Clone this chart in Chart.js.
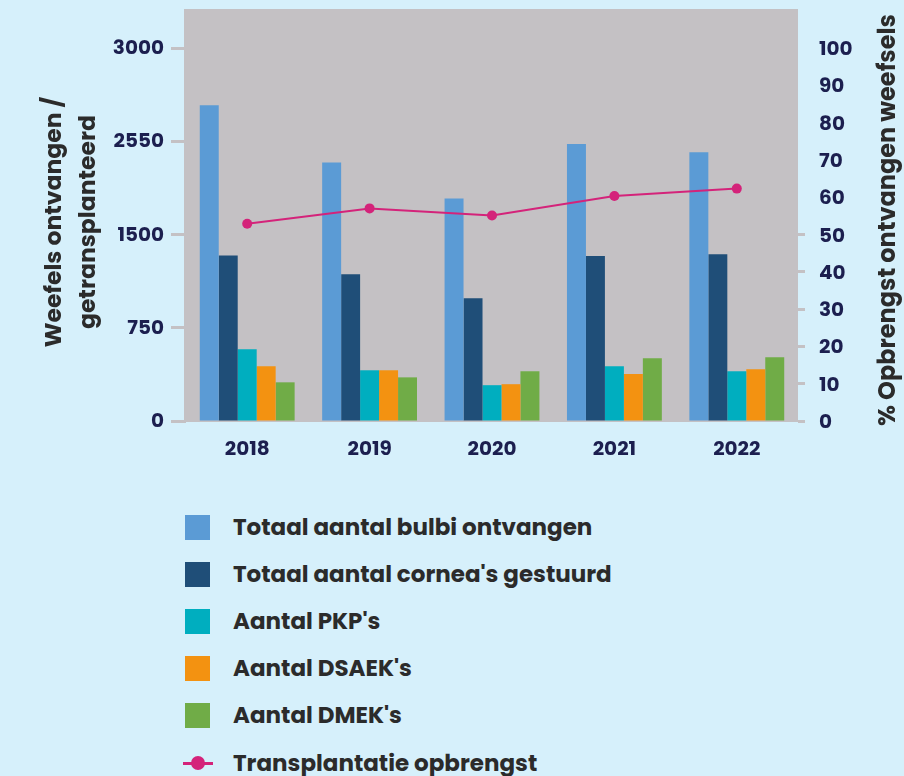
<!DOCTYPE html>
<html>
<head>
<meta charset="utf-8">
<script src="https://cdn.jsdelivr.net/npm/chart.js@4.4.1/dist/chart.umd.min.js"></script>
<style>
  html, body { margin: 0; padding: 0; background: #d6f0fb; }
  #wrap { position: relative; width: 904px; height: 776px; overflow: hidden; }
  #chart { position: absolute; left: 0; top: 0; }
  .item { position: absolute; left: 183px; height: 26px; display: flex; align-items: center;
          font: 700 23px Poppins, Inter, sans-serif; color: #2b2b2b; white-space: nowrap; }
  .swatch { width: 25px; height: 25px; margin-left: 2px; margin-right: 23px; }
  .lineMark { position: relative; width: 30px; height: 26px; margin-right: 20px; }
  .lineMark::before { content: ''; position: absolute; left: 0; right: 0; top: 12px; height: 3px; background: var(--c); }
  .lineMark::after { content: ''; position: absolute; left: 8px; top: 6px; width: 14px; height: 14px; border-radius: 50%; background: var(--c); }
</style>
</head>
<body>
<div id="wrap">
  <canvas id="chart" width="904" height="470"></canvas>
  <div id="legend"></div>
</div>
<script>
// ---- data ----
const years = ['2018', '2019', '2020', '2021', '2022'];
const bulbiOntvangen = [2540, 2080, 1790, 2228, 2162];
const corneasGestuurd = [1332, 1180, 987, 1327, 1342];
const pkp = [577, 408, 288, 440, 400];
const dsaek = [440, 408, 296, 378, 416];
const dmek = [311, 351, 400, 505, 513];
const opbrengst = [52.9, 57.0, 55.1, 60.3, 62.3];

const leftTickValues = [0, 750, 1500, 2250, 3000];
const leftTickLabels = ['0', '750', '1500', '2550', '3000'];   // as printed in the original
const rightTickValues = [0, 10, 20, 30, 40, 50, 60, 70, 80, 90, 100];

const seriesNames = [
  'Totaal aantal bulbi ontvangen',
  "Totaal aantal cornea's gestuurd",
  "Aantal PKP's",
  "Aantal DSAEK's",
  "Aantal DMEK's",
  'Transplantatie opbrengst'
];
const leftTitle = ['Weefels ontvangen /', 'getransplanteerd'];
const rightTitle = '% Opbrengst ontvangen weefsels';

// ---- colours ----
const colors = ['#5b9bd5', '#1f4e78', '#00aebf', '#f39211', '#70ac47', '#d4237a'];
const plotGrey = '#c4c1c4';
const tickText = '#1c1f4f';
const FONT = 'Poppins, Inter, sans-serif';

const barSeries = [bulbiOntvangen, corneasGestuurd, pkp, dsaek, dmek];

// grey panel behind the plot (reaches above the 3000 line)
const backdrop = {
  id: 'backdrop',
  beforeDraw(chart) {
    const { ctx, chartArea } = chart;
    ctx.save();
    ctx.fillStyle = plotGrey;
    ctx.fillRect(chartArea.left - 2, 9, chartArea.right - chartArea.left + 2, chartArea.bottom + 1 - 9);
    ctx.restore();
  }
};

// both axis titles read bottom-to-top
const axisTitles = {
  id: 'axisTitles',
  afterDraw(chart) {
    const { ctx } = chart;
    ctx.save();
    ctx.fillStyle = '#2b2b2b';
    ctx.textAlign = 'center';
    ctx.textBaseline = 'alphabetic';
    const put = (x, y, t, size) => {
      ctx.save();
      ctx.font = '700 ' + size + 'px ' + FONT;
      ctx.translate(x, y);
      ctx.rotate(-Math.PI / 2);
      ctx.fillText(t, 0, 0);
      ctx.restore();
    };
    put(61, 222, leftTitle[0], 23.5);
    put(95, 222, leftTitle[1], 23.5);
    put(895, 220, rightTitle, 24);
    ctx.restore();
  }
};

const datasets = barSeries.map((d, i) => ({
  type: 'bar',
  label: seriesNames[i],
  data: d,
  backgroundColor: colors[i],
  borderWidth: 0,
  yAxisID: 'y',
  order: 2,
  barPercentage: 1.0,
  categoryPercentage: 0.775
}));
datasets.push({
  type: 'line',
  label: seriesNames[5],
  data: opbrengst,
  borderColor: colors[5],
  backgroundColor: colors[5],
  borderWidth: 2,
  pointRadius: 5,
  pointHoverRadius: 5,
  pointBorderWidth: 0,
  tension: 0,
  yAxisID: 'y1',
  order: 1
});

new Chart(document.getElementById('chart'), {
  type: 'bar',
  data: { labels: years, datasets },
  options: {
    responsive: false,
    animation: false,
    layout: { padding: { top: 48, left: 0, right: 0, bottom: 0 } },
    plugins: { legend: { display: false }, tooltip: { enabled: false } },
    scales: {
      x: {
        offset: true,
        grid: { display: false, drawTicks: false },
        border: { display: false },
        ticks: { color: tickText, font: { family: FONT, size: 20, weight: '700' }, padding: 17 },
        afterFit: (s) => { s.height = 470 - 421; }
      },
      y: {
        position: 'left',
        min: 0,
        max: 3000,
        afterBuildTicks: (s) => { s.ticks = leftTickValues.map(v => ({ value: v })); },
        grid: { drawOnChartArea: false, drawTicks: true, tickLength: 15, tickWidth: 3, tickColor: plotGrey },
        border: { display: false },
        ticks: {
          color: tickText,
          font: { family: FONT, size: 20, weight: '700' },
          padding: 7,
          labelOffset: 1,
          callback: (v) => leftTickLabels[leftTickValues.indexOf(v)]
        },
        afterFit: (s) => { s.width = 186; }
      },
      y1: {
        position: 'right',
        min: 0,
        max: 100,
        afterBuildTicks: (s) => { s.ticks = rightTickValues.map(v => ({ value: v })); },
        grid: {
          drawOnChartArea: false, drawTicks: true, tickLength: 7, tickWidth: 3,
          tickColor: (c) => (c.tick && c.tick.value <= 50 ? plotGrey : 'rgba(0,0,0,0)')
        },
        border: { display: false },
        ticks: { color: tickText, font: { family: FONT, size: 20, weight: '700' }, padding: 14, labelOffset: 2 },
        afterFit: (s) => { s.width = 904 - 798; }
      }
    }
  },
  plugins: [backdrop, axisTitles]
});

// ---- legend, one entry per line ----
const legend = document.getElementById('legend');
seriesNames.forEach((name, i) => {
  const row = document.createElement('div');
  row.className = 'item';
  row.style.top = (527 + i * 47.1 - 13) + 'px';
  const mark = document.createElement('span');
  if (i < 5) {
    mark.className = 'swatch';
    mark.style.background = colors[i];
  } else {
    mark.className = 'lineMark';
    mark.style.setProperty('--c', colors[i]);
  }
  const txt = document.createElement('span');
  txt.textContent = name;
  row.appendChild(mark);
  row.appendChild(txt);
  legend.appendChild(row);
});
</script>
</body>
</html>
